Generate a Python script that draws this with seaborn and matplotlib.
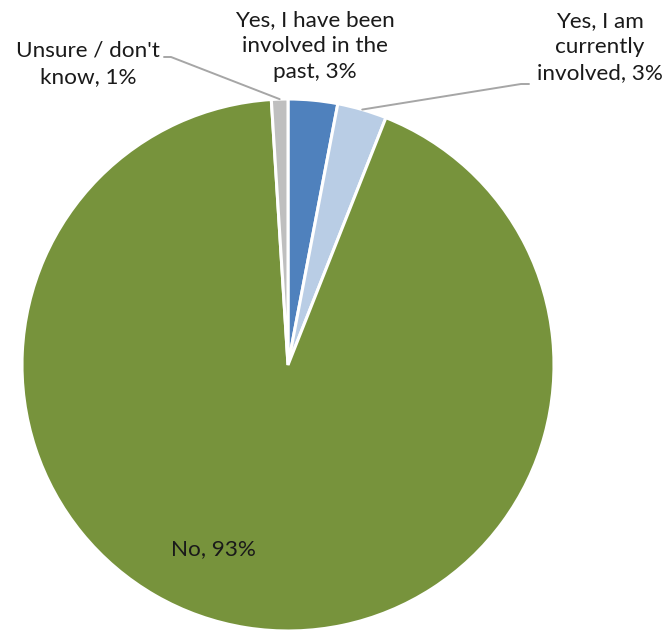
import numpy as np
import matplotlib
matplotlib.use("Agg")
import matplotlib.pyplot as plt
import seaborn as sns

# Survey responses: involvement
categories = [
    "Yes, I have been\ninvolved in the\npast",
    "Yes, I am\ncurrently\ninvolved",
    "No",
    "Unsure / don't\nknow",
]
shares = [3, 3, 93, 1]
colors = ["#4F81BD", "#B9CDE5", "#77933C", "#BFBFBF"]

sns.set_theme(style="white")
plt.rcParams["font.family"] = ["Lato", "DejaVu Sans"]

W, H = 669, 630
fig = plt.figure(figsize=(W / 100, H / 100), dpi=100)
ax = fig.add_axes([0, 0, 1, 1])

cx, cy, r = 288, H - 365, 266
palette = sns.color_palette(colors)
wedges, _ = ax.pie(
    shares,
    colors=palette,
    startangle=90,
    counterclock=False,
    center=(cx, cy),
    radius=r,
    wedgeprops=dict(edgecolor="white", linewidth=2.2),
    frame=True,
)
ax.set_xlim(0, W)
ax.set_ylim(0, H)
ax.set_aspect("equal")
ax.axis("off")

labels = [f"{c}, {s}%" for c, s in zip(categories, shares)]
txt_kw = dict(fontsize=16.2, color="#1a1a1a", ha="center", va="center",
              linespacing=1.38)

def edge_point(w):
    ang = np.deg2rad((w.theta1 + w.theta2) / 2)
    return cx + r * np.cos(ang), cy + r * np.sin(ang)

lead = dict(color="#A6A6A6", lw=1.4)

# past
ax.text(315, H - 46, labels[0], **txt_kw)
# currently
ax.text(600, H - 47, labels[1], **txt_kw)
ex, ey = edge_point(wedges[1])
ax.plot([ex, 521, 529], [ey, H - 84, H - 84], **lead)
# no
ax.text(213, H - 549, labels[2], **txt_kw)
# unsure
ax.text(88, H - 64, labels[3], **txt_kw)
ex, ey = edge_point(wedges[3])
ax.plot([ex, 171, 164], [ey, H - 57, H - 57], **lead)

fig.savefig("out.png", dpi=100, facecolor="white")
